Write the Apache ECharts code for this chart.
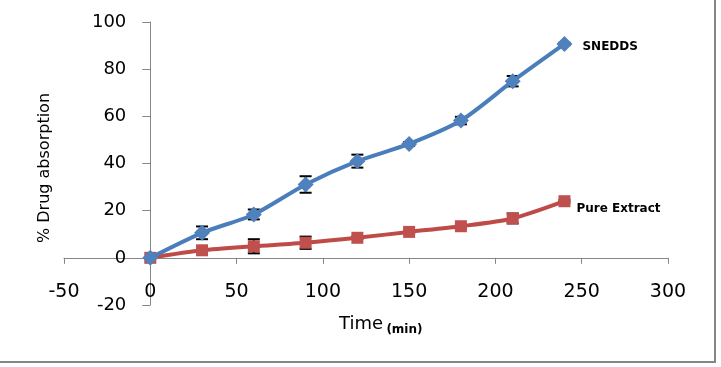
<!DOCTYPE html>
<html>
<head>
<meta charset="utf-8">
<script src="https://cdn.jsdelivr.net/npm/echarts@6/dist/echarts.min.js"></script>
<style>
html,body{margin:0;padding:0;background:#fff;}
#chart{width:721px;height:367px;}
</style>
</head>
<body>
<div id="chart"></div>
<script>
var times = [0, 30, 60, 90, 120, 150, 180, 210, 240];
var snedds = [0, 10.6, 18.4, 31.1, 41.0, 48.3, 58.2, 74.9, 90.7];
var sneddsErr = [0, 2.7, 2.1, 3.5, 2.75, 0.8, 1.6, 2.2, 0.5];
var pure = [0, 3.2, 4.9, 6.4, 8.5, 11.0, 13.4, 16.7, 24.0];
var pureErr = [0, 0.5, 3.0, 2.6, 0.5, 0.5, 0.8, 2.1, 0.5];
var xTicks = [-50, 0, 50, 100, 150, 200, 250, 300];
var yTicks = [-20, 0, 20, 40, 60, 80, 100];
var seriesNames = ['SNEDDS', 'Pure Extract'];

var chart = echarts.init(document.getElementById('chart'));

var G = { left: 64, top: 22, width: 604, height: 283 };
var xMin = xTicks[0], xMax = xTicks[xTicks.length - 1];
var yMin = yTicks[0], yMax = yTicks[yTicks.length - 1];
// offsets so that the axes cross at zero (labels follow the axis line)
var yAxisOffset = -G.width * (0 - xMin) / (xMax - xMin);
var xAxisOffset = -G.height * (0 - yMin) / (yMax - yMin);

function errData(xs, ys, es) { return xs.map(function (x, i) { return [x, ys[i] - es[i], ys[i] + es[i]]; }); }

function lineData(xs, ys, name, off) {
  return xs.map(function (x, i) {
    var d = { value: [x, ys[i]] };
    if (i === xs.length - 1) {
      d.label = {
        show: true, position: 'right', distance: off[0], offset: [0, off[1]],
        formatter: name, color: '#000', fontWeight: 'bold', fontSize: 12,
        fontFamily: 'DejaVu Sans'
      };
    }
    return d;
  });
}

function errRender(params, api) {
  var x = api.value(0);
  var lo = api.coord([x, api.value(1)]);
  var hi = api.coord([x, api.value(2)]);
  var hw = 6;
  var st = { stroke: '#000', lineWidth: 2 };
  return {
    type: 'group',
    children: [
      { type: 'line', shape: { x1: lo[0], y1: lo[1], x2: hi[0], y2: hi[1] }, style: st },
      { type: 'line', shape: { x1: lo[0] - hw, y1: lo[1], x2: lo[0] + hw, y2: lo[1] }, style: st },
      { type: 'line', shape: { x1: hi[0] - hw, y1: hi[1], x2: hi[0] + hw, y2: hi[1] }, style: st }
    ]
  };
}

var axisColor = '#868686';
var option = {
  animation: false,
  backgroundColor: '#fff',
  grid: { left: G.left, top: G.top, width: G.width, height: G.height, containLabel: false },
  xAxis: {
    type: 'value', min: xMin, max: xMax, interval: 50,
    position: 'bottom', offset: xAxisOffset,
    axisLine: { show: true, onZero: false, lineStyle: { color: axisColor, width: 1 } },
    axisTick: { show: true, length: 6, lineStyle: { color: axisColor } },
    axisLabel: { margin: 25, color: '#000', fontSize: 19, fontFamily: 'DejaVu Sans' },
    splitLine: { show: false }
  },
  yAxis: {
    type: 'value', min: yMin, max: yMax, interval: 20,
    position: 'left', offset: yAxisOffset,
    axisLine: { show: true, onZero: false, lineStyle: { color: axisColor, width: 1 } },
    axisTick: { show: true, length: 8, lineStyle: { color: axisColor } },
    axisLabel: { margin: 24, color: '#000', fontSize: 18, fontFamily: 'DejaVu Sans' },
    splitLine: { show: false }
  },
  series: [
    {
      type: 'custom', name: 'errS', renderItem: errRender, z: 1,
      data: errData(times, snedds, sneddsErr), encode: { x: 0, y: [1, 2] }
    },
    {
      type: 'custom', name: 'errP', renderItem: errRender, z: 1,
      data: errData(times, pure, pureErr), encode: { x: 0, y: [1, 2] }
    },
    {
      type: 'line', name: seriesNames[0], z: 3, smooth: 0.25,
      data: lineData(times, snedds, seriesNames[0], [10, 3]),
      symbol: 'diamond', symbolSize: 16, showAllSymbol: true,
      lineStyle: { color: '#4A7EBB', width: 4 },
      itemStyle: { color: '#4F81BD', borderWidth: 0 }
    },
    {
      type: 'line', name: seriesNames[1], z: 2, smooth: 0.25,
      data: lineData(times, pure, seriesNames[1], [6, 8]),
      symbol: 'rect', symbolSize: 12, showAllSymbol: true,
      lineStyle: { color: '#BE4B48', width: 4 },
      itemStyle: { color: '#C0504D', borderWidth: 0 }
    }
  ],
  graphic: [
    {
      type: 'text', x: 37, y: 243, rotation: Math.PI / 2,
      style: { text: '% Drug absorption', fill: '#000', fontSize: 16, fontFamily: 'DejaVu Sans' }
    },
    {
      type: 'text', x: 339, y: 315,
      style: {
        text: '{a|Time} {b|(min)}',
        rich: {
          a: { fontSize: 18, fontFamily: 'DejaVu Sans', fill: '#000', verticalAlign: 'bottom' },
          b: { fontSize: 12, fontWeight: 'bold', fontFamily: 'DejaVu Sans', fill: '#000', verticalAlign: 'bottom', padding: [0, 0, -3, 0] }
        }
      }
    },
    { type: 'line', shape: { x1: 0, y1: 362, x2: 716, y2: 362 }, style: { stroke: axisColor, lineWidth: 2 } },
    { type: 'line', shape: { x1: 715, y1: 0, x2: 715, y2: 362 }, style: { stroke: axisColor, lineWidth: 2 } }
  ]
};
chart.setOption(option);
</script>
</body>
</html>
